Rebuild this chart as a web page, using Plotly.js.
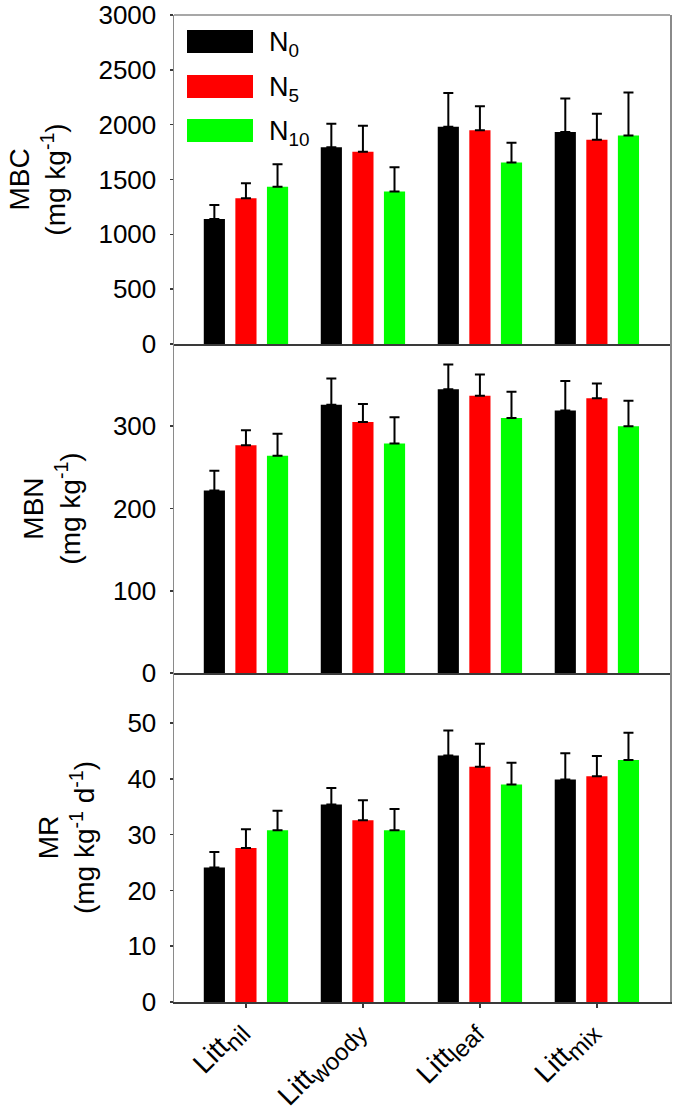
<!DOCTYPE html>
<html>
<head>
<meta charset="utf-8">
<script src="https://cdn.plot.ly/plotly-3.0.1.min.js"></script>
<style>html,body{margin:0;padding:0;background:#fff;}#chart{width:675px;height:1114px;}</style>
</head>
<body>
<div id="chart"></div>
<script>
// ---- data ----
var categories = ['Litt<sub><span style="font-size:24px">nil</span></sub>',
                  'Litt<sub><span style="font-size:24px">woody</span></sub>',
                  'Litt<sub><span style="font-size:24px">leaf</span></sub>',
                  'Litt<sub><span style="font-size:24px">mix</span></sub>'];
var seriesNames = ['N<sub>0</sub>', 'N<sub>5</sub>', 'N<sub>10</sub>'];
var seriesColors = ['#000000', '#ff0000', '#00ff00'];

var mbcN0 = [1140, 1793, 1982, 1933];
var mbcN0Err = [128, 216, 307, 305];
var mbcN5 = [1329, 1753, 1948, 1862];
var mbcN5Err = [137, 237, 220, 238];
var mbcN10 = [1433, 1390, 1655, 1902];
var mbcN10Err = [207, 222, 181, 391];

var mbnN0 = [222, 326, 345, 319];
var mbnN0Err = [24, 32, 30, 36];
var mbnN5 = [277, 305, 337, 334];
var mbnN5Err = [18, 22, 26, 18];
var mbnN10 = [264, 279, 310, 300];
var mbnN10Err = [27, 32, 32, 31];

var mrN0 = [24.1, 35.4, 44.2, 39.9];
var mrN0Err = [2.8, 3.0, 4.5, 4.7];
var mrN5 = [27.6, 32.6, 42.2, 40.5];
var mrN5Err = [3.4, 3.6, 4.1, 3.6];
var mrN10 = [30.8, 30.8, 39.0, 43.4];
var mrN10Err = [3.5, 3.8, 3.9, 4.9];

var panelTitles = ['MBC<br>(mg kg<sup>-1</sup>)', 'MBN<br>(mg kg<sup>-1</sup>)', 'MR<br>(mg kg<sup>-1</sup> d<sup>-1</sup>)'];
var mbcTicks = [0, 500, 1000, 1500, 2000, 2500, 3000];
var mbnTicks = [0, 100, 200, 300];
var mrTicks = [0, 10, 20, 30, 40, 50];

// ---- build ----
var FONT = 'Liberation Sans, Arial, sans-serif';
var panels = [
  {vals: [mbcN0, mbcN5, mbcN10], errs: [mbcN0Err, mbcN5Err, mbcN10Err], xa: 'x', ya: 'y'},
  {vals: [mbnN0, mbnN5, mbnN10], errs: [mbnN0Err, mbnN5Err, mbnN10Err], xa: 'x2', ya: 'y2'},
  {vals: [mrN0, mrN5, mrN10], errs: [mrN0Err, mrN5Err, mrN10Err], xa: 'x3', ya: 'y3'}
];
var traces = [];
panels.forEach(function (p) {
  for (var s = 0; s < 3; s++) {
    traces.push({
      type: 'bar', x: categories, y: p.vals[s], name: seriesNames[s],
      xaxis: p.xa, yaxis: p.ya, showlegend: false,
      marker: {color: seriesColors[s], line: {width: 0}},
      error_y: {type: 'data', symmetric: false, array: p.errs[s],
        arrayminus: p.errs[s].map(function () { return 0; }),
        color: '#000', thickness: 2, width: 5}
    });
  }
});

var xr = [-0.615, 3.625];
function xAxis(show) {
  return {range: xr, type: 'category', showline: true, linecolor: '#3a3a3a', linewidth: 2,
    showgrid: false, zeroline: false, fixedrange: true,
    showticklabels: show, ticks: show ? 'outside' : '', ticklen: 4, tickwidth: 1.5, tickcolor: '#3a3a3a',
    ticklabelshift: -8, ticklabelstandoff: -6,
    tickangle: -45, tickfont: {family: FONT, size: 28, color: '#000'}};
}
function yAxis(dom, range, ticks, title) {
  return {domain: dom, range: range, tickvals: ticks, ticktext: ticks.map(String),
    showline: true, linecolor: '#8a8a8a', linewidth: 1.5, mirror: true,
    showgrid: false, zeroline: false, ticks: 'outside', ticklen: 3, tickwidth: 1.5, tickcolor: '#3a3a3a',
    ticklabelstandoff: 8,
    tickfont: {family: FONT, size: 26, color: '#000'},
    title: {text: title, font: {family: FONT, size: 28, color: '#000'}, standoff: 24}};
}

var layout = {
  width: 675, height: 1114,
  margin: {l: 174, r: 5, t: 15, b: 112, pad: 0},
  paper_bgcolor: '#fff', plot_bgcolor: '#fff',
  barmode: 'group', bargap: 0.19, bargroupgap: 0.33,
  showlegend: false,
  xaxis: Object.assign(xAxis(false), {anchor: 'y'}),
  xaxis2: Object.assign(xAxis(false), {anchor: 'y2'}),
  xaxis3: Object.assign(xAxis(true), {anchor: 'y3'}),
  yaxis: Object.assign(yAxis([0.6667, 1], [0, 3000], mbcTicks, panelTitles[0]), {anchor: 'x'}),
  yaxis2: Object.assign(yAxis([0.3333, 0.6667], [0, 400], mbnTicks, panelTitles[1]), {anchor: 'x2'}),
  yaxis3: Object.assign(yAxis([0, 0.3333], [0, 59], mrTicks, panelTitles[2]), {anchor: 'x3'}),
  shapes: [],
  annotations: []
};

// legend drawn inside top panel
var H = 1114 - 15 - 112, W = 675 - 174 - 5;
function px2x(px) { return (px - 174) / W; }
function py2y(py) { return (1114 - 112 - py) / H; }
var legTop = [30, 75, 119];
for (var i = 0; i < 3; i++) {
  layout.shapes.push({type: 'rect', xref: 'paper', yref: 'paper',
    x0: px2x(187), x1: px2x(253), y0: py2y(legTop[i] + 23), y1: py2y(legTop[i]),
    fillcolor: seriesColors[i], line: {width: 0}});
  layout.annotations.push({xref: 'paper', yref: 'paper', x: px2x(267), y: py2y(legTop[i] + 14),
    xanchor: 'left', yanchor: 'middle', showarrow: false, text: seriesNames[i],
    font: {family: FONT, size: 27, color: '#000'}});
}
// grey top border of top panel
layout.shapes.push({type: 'line', xref: 'paper', yref: 'paper', x0: 0, x1: 1, y0: 1, y1: 1,
  line: {color: '#8a8a8a', width: 1.5}});

Plotly.newPlot('chart', traces, layout, {displayModeBar: false, staticPlot: true});
</script>
</body>
</html>
